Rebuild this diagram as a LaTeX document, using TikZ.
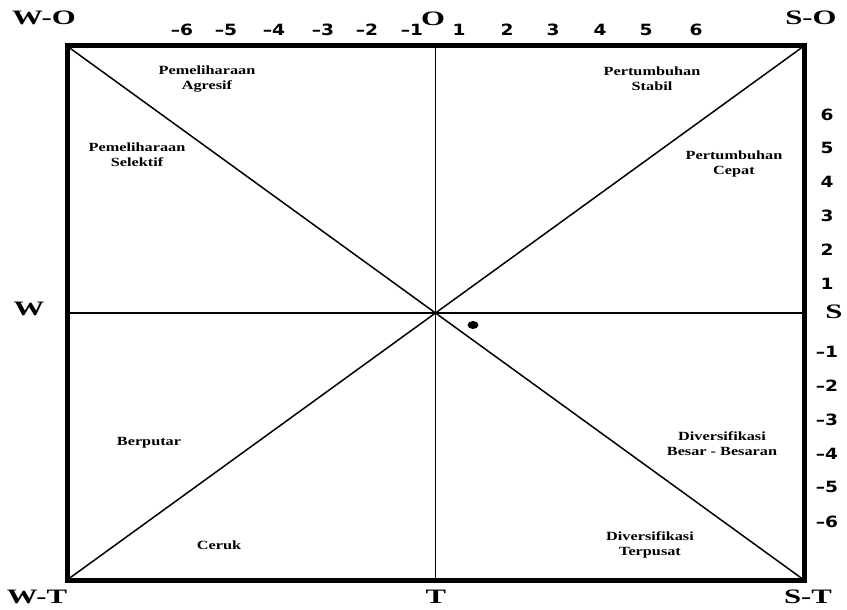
\documentclass[tikz,border=0pt]{standalone}
\usepackage{fontspec}
\setmainfont{Liberation Serif}
\newfontfamily\lblfont{Liberation Serif}[FakeStretch=1.3]
\newfontfamily\cornerfont{Liberation Serif}[FakeStretch=1.5]
\newfontfamily\numfont{DejaVu Sans}[FakeStretch=1.2]
\begin{document}
\begin{tikzpicture}[x=1pt,y=-1pt,
  lbl/.style={align=center,inner sep=0pt,font=\lblfont\bfseries\fontsize{12.5}{15}\selectfont},
  corner/.style={inner sep=0pt,font=\cornerfont\bfseries\fontsize{20.5}{22}\selectfont},
  num/.style={inner sep=0pt,font=\numfont\bfseries\fontsize{15.5}{17}\selectfont},
  thin/.style={line width=1.5pt},
  frame/.style={line width=5pt}]
\useasboundingbox (0,0) rectangle (847,610);
% box corners
\coordinate (WO) at (67,46);
\coordinate (SO) at (804,46);
\coordinate (WT) at (67,580);
\coordinate (ST) at (804,580);
\coordinate (C) at (435.5,313);
\coordinate (Ot) at (435.5,46);
\coordinate (Tb) at (435.5,580);
\coordinate (Wl) at (67,313);
\coordinate (Sr) at (804,313);
% inner lines
\draw[thin] (WO) -- (ST);
\draw[thin] (WT) -- (SO);
\draw[thin] (Ot) -- (Tb);
\draw[thin] (Wl) -- (Sr);
% frame
\draw[frame] (WO) rectangle (ST);
% dot
\fill (473,325) ellipse [x radius=5.5pt, y radius=4pt];
% corner labels
\node[corner] (lWO) at (44,18) {W-O};
\node[corner] (lSO) at (811,18) {S-O};
\node[corner] (lWT) at (37,597) {W-T};
\node[corner] (lST) at (808,597) {S-T};
\node[corner] (lT) at (436,597) {T};
\node[corner] (lO) at (433,19) {O};
\node[corner] (lW) at (29,309) {W};
\node[corner] (lS) at (834,312) {S};
% top numbers
\node[num] (tm6) at (182,30) {–6};
\node[num] (tm5) at (226,30) {–5};
\node[num] (tm4) at (274,30) {–4};
\node[num] (tm3) at (323,30) {–3};
\node[num] (tm2) at (367,30) {–2};
\node[num] (tm1) at (412,30) {–1};
\node[num] (tp1) at (459,30) {1};
\node[num] (tp2) at (507,30) {2};
\node[num] (tp3) at (553,30) {3};
\node[num] (tp4) at (600,30) {4};
\node[num] (tp5) at (646,30) {5};
\node[num] (tp6) at (696,30) {6};
% right numbers
\node[num] (rp6) at (827,115) {6};
\node[num] (rp5) at (827,148) {5};
\node[num] (rp4) at (827,182) {4};
\node[num] (rp3) at (827,216) {3};
\node[num] (rp2) at (827,250) {2};
\node[num] (rp1) at (827,284) {1};
\node[num] (rm1) at (827,352) {–1};
\node[num] (rm2) at (827,386) {–2};
\node[num] (rm3) at (827,420) {–3};
\node[num] (rm4) at (827,454) {–4};
\node[num] (rm5) at (827,487) {–5};
\node[num] (rm6) at (827,522) {–6};
% region labels
\node[lbl] (pa) at (207,79) {Pemeliharaan\\Agresif};
\node[lbl] (ps) at (137,155) {Pemeliharaan\\Selektif};
\node[lbl] (pst) at (652,79) {Pertumbuhan\\Stabil};
\node[lbl] (pc) at (734,164) {Pertumbuhan\\Cepat};
\node[lbl] (bp) at (149,443) {Berputar};
\node[lbl] (ck) at (219,545) {Ceruk};
\node[lbl] (db) at (722,444) {Diversifikasi\\Besar - Besaran};
\node[lbl] (dt) at (650,545) {Diversifikasi\\Terpusat};
\end{tikzpicture}
\end{document}
